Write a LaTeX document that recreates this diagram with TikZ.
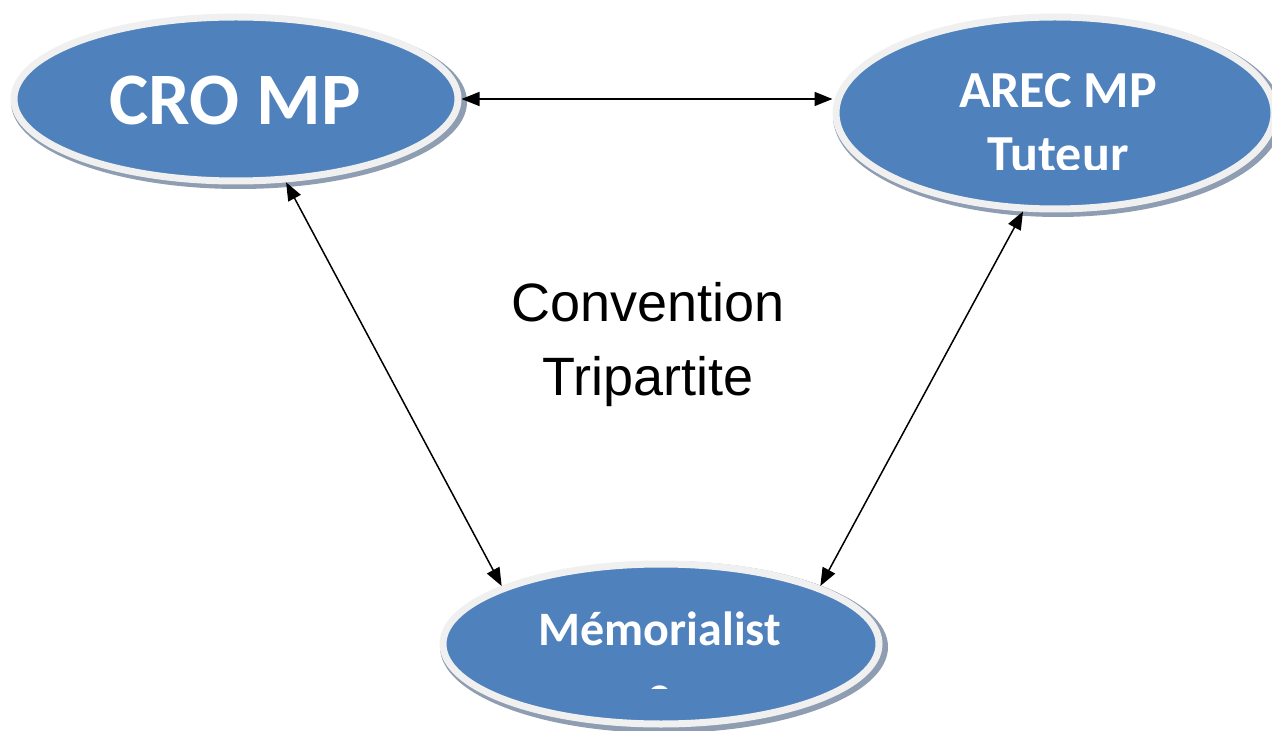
\documentclass[tikz,border=0pt]{standalone}
\usepackage{fontspec}
\newfontfamily\calb{Carlito}[BoldFont={Carlito Bold}]
\newfontfamily\arialf{Liberation Sans}
\usetikzlibrary{shapes.geometric,arrows.meta}
\definecolor{blobblue}{HTML}{4F81BD}
\definecolor{ringgray}{HTML}{F0F0F0}
\definecolor{shadowc}{HTML}{8E9DB2}
\tikzset{
  blob/.style={ellipse, fill=blobblue, draw=ringgray, line width=3.5pt, inner sep=0pt},
  blobshadow/.style={ellipse, fill=shadowc, inner sep=0pt},
  blobtext/.style={text=white, font=\calb\bfseries, inner sep=0pt, anchor=base},
  link/.style={line width=0.75pt, {Triangle[length=9pt,width=7pt]}-{Triangle[length=9pt,width=7pt]}}
}
\begin{document}
\begin{tikzpicture}[x=0.5pt,y=-0.5pt]
\useasboundingbox (0,0) rectangle (1272,731);
% shadows
\node[blobshadow, minimum width=228pt, minimum height=87pt] at (239,102) {};
\node[blobshadow, minimum width=225pt, minimum height=101pt] at (1058,116) {};
\node[blobshadow, minimum width=224pt, minimum height=86pt] at (664,647) {};
% ellipses
\node[blob, minimum width=222pt, minimum height=82pt] (cro) at (236,99) {};
\node[blob, minimum width=219pt, minimum height=96pt] (arec) at (1055,113) {};
\node[blob, minimum width=218pt, minimum height=80pt] (mem) at (661,644) {};
% texts
\node[blobtext, font=\calb\bfseries\fontsize{37}{40}\selectfont] (crotxt) at (235,125) {CRO MP};
\begin{scope}
\clip (820,0) rectangle (1272,170);
\node[blobtext, font=\calb\bfseries\fontsize{26}{30}\selectfont] (arectxt1) at (1058,108) {AREC MP};
\node[blobtext, font=\calb\bfseries\fontsize{26}{30}\selectfont] (arectxt2) at (1058,172) {Tuteur};
\end{scope}
\begin{scope}
\clip (430,560) rectangle (890,688);
\node[blobtext, font=\calb\bfseries\fontsize{24}{28}\selectfont] (memtxt1) at (660,645) {Mémorialist};
\node[blobtext, font=\calb\bfseries\fontsize{24}{28}\selectfont] (memtxt2) at (660,709) {e};
\end{scope}
\node[inner sep=0pt, anchor=base, font=\arialf\fontsize{27}{32}\selectfont] (conv1) at (648,322) {Convention};
\node[inner sep=0pt, anchor=base, font=\arialf\fontsize{27}{32}\selectfont] (conv2) at (648,396) {Tripartite};
% connectors
\draw[link] (cro.east) -- (cro.east -| arec.west);
\draw[link] (cro.-59) -- (mem.160);
\draw[link] (arec.-108) -- (mem.20);
\end{tikzpicture}
\end{document}
